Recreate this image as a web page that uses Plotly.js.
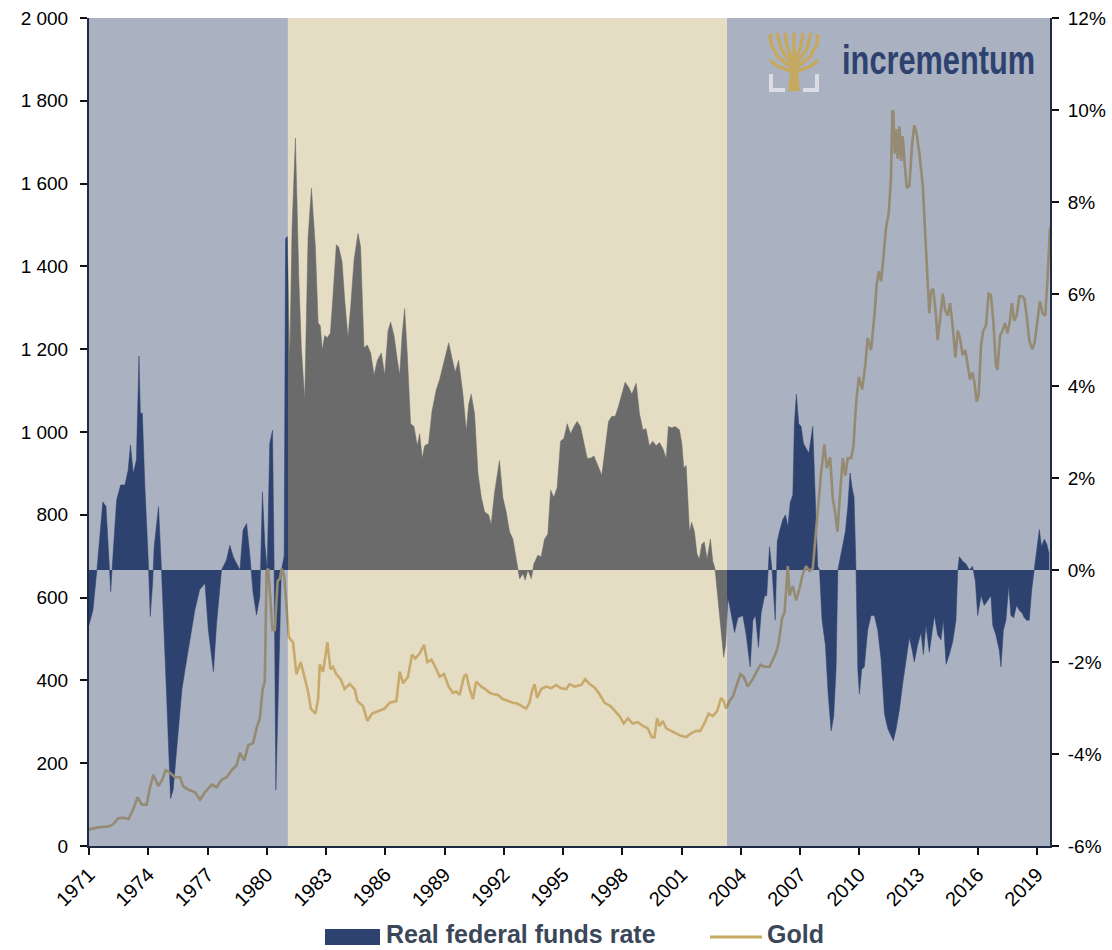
<!DOCTYPE html>
<html><head><meta charset="utf-8">
<script src="https://cdn.plot.ly/plotly-3.0.1.min.js"></script>
<style>html,body{margin:0;padding:0;background:#fff}#chart{width:1112px;height:950px}</style>
</head><body><div id="chart"></div>
<script>
// ---- data ----
const rateYears = [
1971.0,1971.2,1971.4,1971.7,1971.86,1972.1,1972.23,1972.4,1972.6,1972.82,1972.98,1973.1,1973.24,1973.4,1973.53,1973.6,1973.7,1973.83,
1974.0,1974.1,1974.22,1974.3,1974.52,1974.67,1974.93,1975.13,1975.26,1975.52,1975.7,1975.86,1976.1,1976.36,1976.6,1976.87,
1977.04,1977.3,1977.46,1977.71,1977.96,1978.13,1978.3,1978.64,1978.8,1978.98,1979.15,1979.31,1979.48,1979.65,1979.78,1979.9,
1980.02,1980.15,1980.29,1980.37,1980.46,1980.6,1980.74,1980.88,1980.95,1981.04,1981.16,1981.28,1981.45,1981.62,1981.75,1981.92,
1982.09,1982.26,1982.46,1982.6,1982.71,1982.81,1982.93,1983.07,1983.22,1983.35,1983.52,1983.64,1983.81,1983.94,
1984.11,1984.25,1984.42,1984.62,1984.75,1984.92,1985.09,1985.26,1985.43,1985.6,1985.8,1985.97,
1986.14,1986.27,1986.44,1986.61,1986.73,1986.85,1986.98,1987.11,1987.28,1987.45,1987.62,1987.74,1987.87,1987.99,
1988.19,1988.36,1988.58,1988.75,1988.97,1989.21,1989.37,1989.54,1989.71,1989.93,1990.1,1990.22,1990.35,1990.52,1990.69,1990.86,
1991.03,1991.23,1991.36,1991.53,1991.78,1991.95,1992.12,1992.29,1992.46,1992.63,1992.8,1992.97,1993.08,1993.22,1993.39,1993.52,
1993.72,1993.89,1994.06,1994.23,1994.37,1994.53,1994.7,1994.87,1995.04,1995.21,1995.38,1995.55,1995.71,1995.88,
1996.05,1996.22,1996.39,1996.56,1996.76,1996.96,1997.13,1997.3,1997.47,1997.64,1997.8,1997.97,1998.14,1998.31,1998.48,1998.7,1998.87,
1999.04,1999.2,1999.37,1999.54,1999.71,1999.88,2000.05,2000.22,2000.33,2000.5,2000.67,2000.89,2001.01,2001.11,2001.23,2001.31,
2001.4,2001.51,2001.65,2001.78,2001.9,2002.02,2002.15,2002.29,2002.46,2002.58,2002.69,2002.8,2002.91,2003.03,2003.13,2003.23,
2003.34,2003.43,2003.68,2003.85,2004.1,2004.27,2004.47,2004.61,2004.74,2004.89,2005.03,2005.2,2005.31,2005.45,2005.58,2005.74,
2005.84,2005.95,2006.12,2006.26,2006.38,2006.5,2006.63,2006.71,2006.81,2006.93,2007.05,2007.17,2007.3,2007.44,2007.64,2007.76,
2007.89,2007.98,2008.11,2008.28,2008.42,2008.57,2008.7,2008.82,2008.91,2009.02,2009.16,2009.29,2009.41,2009.53,2009.63,2009.73,
2009.83,2009.92,2010.0,2010.12,2010.25,2010.42,2010.59,2010.76,2010.93,2011.1,2011.27,2011.44,2011.6,2011.72,2011.86,
2012.03,2012.19,2012.36,2012.53,2012.67,2012.78,2012.95,2013.12,2013.24,2013.37,2013.54,2013.71,2013.8,2013.96,
2014.13,2014.25,2014.39,2014.55,2014.72,2014.89,2014.98,2015.06,2015.23,2015.4,2015.57,2015.73,2015.87,2015.99,
2016.16,2016.32,2016.49,2016.66,2016.75,2016.91,2017.08,2017.17,2017.29,2017.42,2017.56,2017.67,2017.81,2017.96,
2018.1,2018.23,2018.35,2018.47,2018.6,2018.72,2018.85,2018.97,2019.11,2019.22,2019.36,2019.49,2019.61];
const rateValues = [
-1.2,-0.87,0,1.48,1.38,-0.47,0.43,1.52,1.85,1.85,2.17,2.72,2.1,2.39,4.65,3.41,3.41,1.81,
0.22,-1.01,-0.29,0.51,1.38,0,-2.75,-4.97,-4.78,-3.55,-2.61,-2.17,-1.52,-0.87,-0.43,-0.29,
-1.3,-2.21,-1.16,0,0.22,0.54,0.29,0,0.87,1.01,0.29,-0.51,-0.98,-0.58,1.7,0.58,
0,2.75,3.04,0.14,-4.78,-2.03,0,0.3,7.2,7.25,4.51,7.45,9.39,6.38,4.83,3.71,
7.23,8.3,7.02,5.37,5.31,4.78,5.1,5.05,5.15,5.95,7.07,7.02,6.7,5.9,
5.05,5.74,6.75,7.32,7.02,4.83,4.89,4.72,4.24,4.56,4.72,4.24,
5.2,5.39,5.1,4.56,4.24,5.1,5.68,4.72,3.18,3.12,2.7,2.96,2.43,2.7,
2.75,3.44,3.92,4.14,4.51,4.94,4.62,4.3,4.56,3.82,3.02,3.6,3.82,3.39,2.11,1.58,
1.26,1.2,0.99,1.68,2.38,1.58,1.26,0.83,0.67,0.19,-0.19,-0.08,-0.22,0,-0.19,0.13,
0.32,0.29,0.67,0.78,1.74,1.58,1.79,2.8,2.86,3.18,2.96,3.12,3.23,3.12,
2.75,2.43,2.43,2.48,2.27,2.06,2.64,3.23,3.34,3.34,3.55,3.82,4.08,3.98,3.82,4.06,3.39,
3.05,3.07,2.7,2.8,2.7,2.77,2.64,2.43,3.12,3.09,3.12,3.05,2.75,2.22,2.27,1.68,
0.83,1.04,0.83,0.35,0.24,0.56,0.61,0.24,0.67,0.19,0.03,-0.45,-0.93,-1.41,-1.9,-1.63,
-0.6,-0.77,-1.36,-1.04,-0.99,-1.41,-2.11,-1.09,-0.99,-1.68,-0.93,-0.56,-0.56,0.51,0,-1.09,
0.61,0.83,1.09,1.2,0.94,1.47,1.63,3.18,3.82,3.18,3.12,2.75,2.64,2.54,3.12,1.79,
0.08,0,-1.09,-1.63,-2.7,-3.5,-3.18,-2.16,0,0.24,0.51,0.83,1.36,2.11,1.79,1.58,
0,-2.16,-2.7,-2.16,-2.11,-1.31,-0.99,-0.99,-1.31,-1.95,-3.13,-3.45,-3.6,-3.71,-3.45,
-3.02,-2.48,-2.0,-1.47,-1.74,-2.0,-1.63,-1.36,-1.84,-1.2,-1.79,-1.31,-0.99,-1.41,
-1.52,-1.09,-2.05,-1.84,-1.57,-1.09,0,0.29,0.19,0.13,0,0.08,-0.24,-0.99,
-0.56,-0.77,-0.67,-0.56,-1.2,-1.41,-1.74,-2.11,-1.31,-1.09,-0.35,-0.99,-1.04,-0.77,
-0.88,-0.93,-1.04,-1.09,-1.09,-0.45,0,0.4,0.88,0.51,0.67,0.56,0.35];

const goldYears = [
1971.0,1971.47,1971.98,1972.23,1972.49,1972.74,1973.0,1973.24,1973.46,1973.67,1973.92,1974.09,1974.26,1974.51,1974.71,1974.88,
1975.1,1975.35,1975.61,1975.77,1976.03,1976.36,1976.62,1976.87,1977.21,1977.46,1977.71,1977.97,1978.22,1978.47,1978.64,1978.86,
1979.06,1979.31,1979.48,1979.65,1979.79,1979.9,1979.99,1980.07,1980.17,1980.29,1980.41,1980.55,1980.66,1980.75,1980.88,1981.0,
1981.12,1981.33,1981.5,1981.72,1981.92,1982.09,1982.23,1982.46,1982.6,1982.68,1982.85,1983.07,1983.22,1983.35,1983.52,1983.74,1983.94,
1984.2,1984.45,1984.59,1984.87,1985.09,1985.33,1985.63,1985.97,1986.22,1986.56,1986.73,1986.9,1987.15,1987.35,1987.52,1987.74,1987.96,
1988.13,1988.33,1988.53,1988.75,1988.97,1989.21,1989.42,1989.59,1989.76,1989.98,1990.1,1990.27,1990.44,1990.6,1990.86,
1991.06,1991.28,1991.45,1991.7,1991.95,1992.21,1992.46,1992.68,1992.91,1993.13,1993.3,1993.42,1993.56,1993.69,1993.89,
1994.15,1994.4,1994.65,1994.9,1995.16,1995.33,1995.58,1995.92,1996.12,1996.34,1996.59,1996.84,1997.1,1997.4,1997.64,1997.86,
1998.07,1998.28,1998.53,1998.78,1999.04,1999.29,1999.49,1999.63,1999.76,1999.88,2000.05,2000.22,2000.47,2000.72,2000.97,
2001.23,2001.48,2001.73,2001.95,2002.15,2002.37,2002.58,2002.8,2003.0,2003.13,2003.25,2003.42,2003.59,2003.76,2003.98,
2004.14,2004.35,2004.6,2004.82,2004.99,2005.2,2005.45,2005.62,2005.79,2005.92,2006.09,2006.21,2006.29,2006.38,2006.46,2006.63,2006.8,2006.97,
2007.14,2007.3,2007.47,2007.64,2007.78,2007.89,2008.06,2008.23,2008.35,2008.52,2008.65,2008.77,2008.89,2008.99,
2009.16,2009.29,2009.41,2009.58,2009.7,2009.83,2009.97,2010.14,2010.3,2010.42,2010.59,2010.76,2010.88,2010.98,
2011.1,2011.22,2011.35,2011.49,2011.6,2011.67,2011.72,2011.79,2011.86,2011.94,2012.03,2012.11,2012.19,2012.3,2012.4,2012.53,2012.67,2012.78,2012.9,
2013.04,2013.21,2013.34,2013.46,2013.54,2013.63,2013.74,2013.88,2013.96,2014.08,2014.22,2014.35,2014.47,2014.59,2014.72,2014.86,2014.98,
2015.09,2015.23,2015.36,2015.48,2015.6,2015.73,2015.82,2015.94,2016.04,2016.16,2016.27,2016.41,2016.54,2016.66,2016.78,2016.91,2016.99,
2017.12,2017.25,2017.37,2017.5,2017.62,2017.72,2017.84,2017.96,2018.1,2018.23,2018.35,2018.47,2018.6,2018.74,2018.87,
2019.02,2019.14,2019.27,2019.41,2019.53,2019.65];
const goldValues = [
40,45,47,53,67,68,65,89,118,100,100,142,172,145,160,183,
177,166,166,144,136,130,112,130,148,142,160,166,183,195,225,207,
243,249,284,308,379,397,664,670,605,522,522,640,646,670,652,569,
504,492,415,444,409,373,332,320,355,438,421,492,427,433,415,403,379,
391,379,350,338,302,320,326,332,346,350,421,393,409,462,453,465,486,
444,450,433,409,415,385,370,373,365,409,415,379,355,397,385,
379,370,367,365,355,350,346,344,338,332,346,373,391,358,379,
385,381,389,381,379,391,385,389,403,391,383,367,346,338,326,314,
296,308,296,299,290,284,263,263,308,290,302,284,278,272,266,
263,272,278,278,296,320,314,326,358,350,332,350,361,385,415,
409,385,403,421,438,433,433,450,468,492,551,563,622,676,605,628,593,622,
658,676,664,670,747,806,901,970,913,939,842,806,759,830,
937,895,937,937,966,1067,1133,1103,1162,1227,1198,1281,1358,1388,
1364,1423,1494,1530,1613,1777,1773,1672,1732,1660,1738,1655,1714,1643,1589,1595,1696,1741,1720,
1672,1595,1471,1364,1287,1340,1346,1281,1222,1269,1334,1293,1281,1311,1257,1180,1245,
1227,1186,1198,1162,1127,1144,1121,1073,1091,1210,1245,1257,1334,1331,1269,1162,1150,
1233,1245,1263,1239,1269,1311,1269,1281,1328,1328,1322,1281,1222,1200,1215,
1269,1316,1287,1281,1376,1494];

const xTickYears = [1971,1974,1977,1980,1983,1986,1989,1992,1995,1998,2001,2004,2007,2010,2013,2016,2019];
const xTickLabels = ['1971','1974','1977','1980','1983','1986','1989','1992','1995','1998','2001','2004','2007','2010','2013','2016','2019'];
const goldTicks = [0,200,400,600,800,1000,1200,1400,1600,1800,2000];
const goldTickLabels = ['0','200','400','600','800','1 000','1 200','1 400','1 600','1 800','2 000'];
const rateTicks = [-6,-4,-2,0,2,4,6,8,10,12];
const rateTickLabels = ['-6%','-4%','-2%','0%','2%','4%','6%','8%','10%','12%'];
const periodBreaks = [1981.07, 2003.3];
const xStart = 1971, xEnd = 2019.65;
const seriesNames = ['Real federal funds rate', 'Gold'];
const logoText = 'incrementum';

// ---- styling ----
const NAVY = '#2e4270', GRAY = '#6a6b6a', BLUEBG = '#aab1c0', BEIGE = '#e5dcc4';
const GOLD_ON_BEIGE = '#c8aa6c', GOLD_ON_BLUE = '#958a72', LOGO_GOLD = '#c6a961';
const AXIS = '#1f2b45';
const FONT = 'Arial, "Liberation Sans", sans-serif';

const frac = v => (v - xStart) / (xEnd - xStart);
const segs = [
  {ax: 'x2', lo: xStart, hi: periodBreaks[0], area: NAVY, gold: GOLD_ON_BLUE, bg: BLUEBG},
  {ax: 'x3', lo: periodBreaks[0], hi: periodBreaks[1], area: GRAY, gold: GOLD_ON_BEIGE, bg: BEIGE},
  {ax: 'x4', lo: periodBreaks[1], hi: xEnd, area: NAVY, gold: GOLD_ON_BLUE, bg: BLUEBG}
];

const traces = [
  {x: [], y: [], xaxis: 'x', yaxis: 'y', type: 'scatter', mode: 'lines', showlegend: false, hoverinfo: 'skip'},
  {x: [], y: [], xaxis: 'x', yaxis: 'y2', type: 'scatter', mode: 'lines', showlegend: false, hoverinfo: 'skip'}
];
segs.forEach(s => {
  traces.push({x: rateYears, y: rateValues, xaxis: s.ax, yaxis: 'y', type: 'scatter', mode: 'lines',
    fill: 'tozeroy', fillcolor: s.area, line: {color: s.area, width: 0.5}, name: seriesNames[0], showlegend: false});
});
segs.forEach(s => {
  traces.push({x: goldYears, y: goldValues, xaxis: s.ax, yaxis: 'y2', type: 'scatter', mode: 'lines',
    line: {color: s.gold, width: 2.6}, name: seriesNames[1], showlegend: false});
});

const layout = {
  width: 1112, height: 950,
  margin: {l: 89, r: 62, t: 18, b: 104},
  paper_bgcolor: '#ffffff', plot_bgcolor: 'rgba(0,0,0,0)',
  showlegend: false,
  font: {family: FONT, size: 19, color: '#000'},
  xaxis: {domain: [0, 1], range: [xStart, xEnd], anchor: 'y', tickmode: 'array', tickvals: xTickYears, ticktext: xTickLabels,
    tickangle: -45, ticks: 'outside', ticklen: 7, tickwidth: 2, tickcolor: '#111', showline: true, linecolor: AXIS, linewidth: 2,
    showgrid: false, zeroline: false, tickfont: {size: 20}},
  yaxis: {range: [-6, 12], side: 'right', anchor: 'x', tickmode: 'array', tickvals: rateTicks, ticktext: rateTickLabels,
    ticks: 'outside', ticklen: 7, tickwidth: 2, tickcolor: '#111', showline: true, linecolor: AXIS, linewidth: 2,
    showgrid: false, zeroline: false, tickfont: {size: 19}, ticklabelstandoff: 5},
  yaxis2: {range: [0, 2000], overlaying: 'y', side: 'left', anchor: 'x', tickmode: 'array', tickvals: goldTicks, ticktext: goldTickLabels,
    ticks: 'outside', ticklen: 7, tickwidth: 2, tickcolor: '#111', showline: true, linecolor: AXIS, linewidth: 2,
    showgrid: false, zeroline: false, tickfont: {size: 19}, ticklabelstandoff: 8},
  shapes: [], annotations: []
};
segs.forEach(s => {
  layout[s.ax.replace('x', 'xaxis')] = {domain: [frac(s.lo), frac(s.hi)], range: [s.lo, s.hi], anchor: 'y', visible: false, showgrid: false, zeroline: false};
  layout.shapes.push({type: 'rect', xref: 'x', yref: 'paper', x0: s.lo, x1: s.hi, y0: 0, y1: 1, fillcolor: s.bg, line: {width: 0}, layer: 'below'});
});

// pixel -> paper helpers for legend / logo decorations
const PX0 = 89, PW = 961, PY0 = 846, PH = 828;
const px = v => (v - PX0) / PW, py = v => (PY0 - v) / PH;
const path = pts => pts.map((p, i) => (i ? 'L' : 'M') + px(p[0]).toFixed(5) + ',' + py(p[1]).toFixed(5)).join(' ');

// manual legend
layout.shapes.push({type: 'rect', xref: 'paper', yref: 'paper', x0: px(325), x1: px(380), y0: py(945), y1: py(929), fillcolor: NAVY, line: {width: 0}});
layout.shapes.push({type: 'line', xref: 'paper', yref: 'paper', x0: px(710), x1: px(762), y0: py(937), y1: py(937), line: {color: LOGO_GOLD, width: 3}});
layout.annotations.push({xref: 'paper', yref: 'paper', x: px(384), y: py(934), xanchor: 'left', yanchor: 'middle', showarrow: false,
  text: '<b>' + seriesNames[0] + '</b>', font: {size: 25, color: '#3a4759', family: FONT}});
layout.annotations.push({xref: 'paper', yref: 'paper', x: px(765), y: py(934), xanchor: 'left', yanchor: 'middle', showarrow: false,
  text: '<b>' + seriesNames[1] + '</b>', font: {size: 25, color: '#3a4759', family: FONT}});

// logo: tree icon + wordmark
const branch = (pts, w) => ({type: 'path', xref: 'paper', yref: 'paper', path: path(pts), line: {color: LOGO_GOLD, width: w || 3.5}, layer: 'above'});
layout.shapes.push({type: 'path', xref: 'paper', yref: 'paper', path: path([[788, 91], [800, 91], [797, 60], [791, 60]]) + ' Z',
  fillcolor: LOGO_GOLD, line: {width: 0}, layer: 'above'});
[
  [[794, 62], [794, 33]],
  [[793, 62], [787, 46], [785, 33]],
  [[795, 62], [801, 46], [803, 33]],
  [[792, 64], [781, 49], [777, 33]],
  [[796, 64], [807, 49], [811, 33]],
  [[791, 67], [778, 57], [771, 44], [770, 34]],
  [[797, 67], [810, 57], [817, 44], [818, 34]],
  [[790, 71], [777, 66], [770, 60]],
  [[798, 71], [811, 66], [818, 60]]
].forEach(b => layout.shapes.push(branch(b)));
layout.shapes.push({type: 'path', xref: 'paper', yref: 'paper', path: path([[771, 74], [771, 90], [785, 90]]), line: {color: '#dcdde3', width: 4}, layer: 'above'});
layout.shapes.push({type: 'path', xref: 'paper', yref: 'paper', path: path([[817, 74], [817, 90], [803, 90]]), line: {color: '#dcdde3', width: 4}, layer: 'above'});
layout.annotations.push({xref: 'paper', yref: 'paper', x: px(938.5), y: py(60), xanchor: 'center', yanchor: 'middle', showarrow: false,
  text: '<b>' + logoText + '</b>', font: {size: 40, color: NAVY, family: FONT}});

Plotly.newPlot('chart', traces, layout, {displayModeBar: false, staticPlot: true}).then(gd => {
  // condense the wordmark to the width of the original logo
  gd.querySelectorAll('.annotation-text').forEach(t => {
    if (t.textContent === logoText) {
      t.setAttribute('textLength', '193');
      t.setAttribute('lengthAdjust', 'spacingAndGlyphs');
    }
  });
});
</script></body></html>
